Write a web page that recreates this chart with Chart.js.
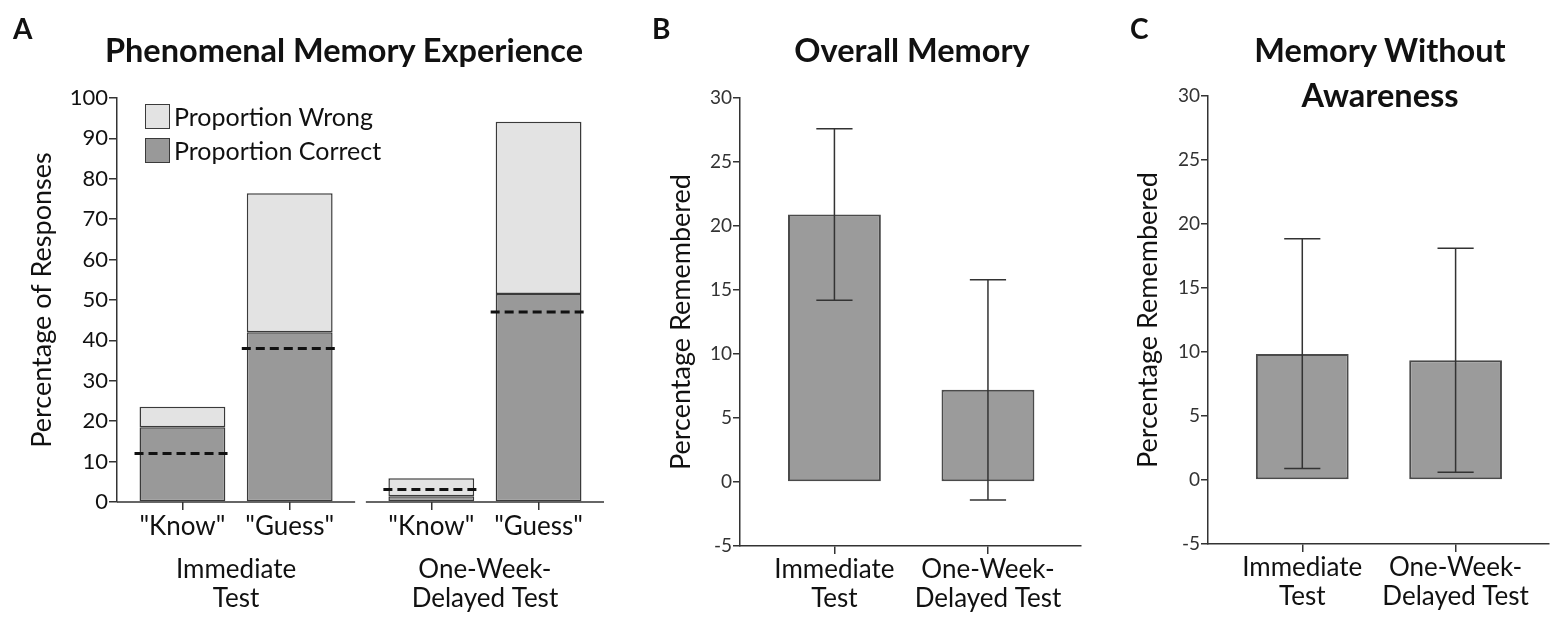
<!DOCTYPE html>
<html><head><meta charset="utf-8">
<script src="https://cdn.jsdelivr.net/npm/chart.js@4.4.1/dist/chart.umd.min.js"></script>
<style>
html,body{margin:0;padding:0;background:#fff;}
#wrap{position:relative;width:1562px;height:621px;overflow:hidden;font-family:Lato,"Open Sans",sans-serif;color:#111;}
canvas{position:absolute;top:0;}
.lbl{position:absolute;font-weight:bold;font-size:28px;line-height:28px;}
.ttl{position:absolute;font-weight:bold;font-size:32.5px;line-height:45px;text-align:center;transform:translateX(-50%);white-space:nowrap;}
.leg{position:absolute;left:145px;top:99px;font-size:25px;}
.leg .row{display:flex;align-items:center;height:34px;}
.leg .sw{display:inline-block;width:23px;height:23px;border:1.5px solid #3a3a3a;margin-right:4px;}
</style></head>
<body><div id="wrap">
<canvas id="cA" width="640" height="621" style="left:0px"></canvas>
<canvas id="cB" width="460" height="621" style="left:640px"></canvas>
<canvas id="cC" width="462" height="621" style="left:1100px"></canvas>
<div class="lbl" style="left:13px;top:14px">A</div>
<div class="lbl" style="left:652px;top:14px">B</div>
<div class="lbl" style="left:1130px;top:14px">C</div>
<div class="ttl" style="left:344px;top:27px">Phenomenal Memory Experience</div>
<div class="ttl" style="left:912px;top:27px">Overall Memory</div>
<div class="ttl" style="left:1380px;top:27px">Memory Without<br>Awareness</div>
<div class="leg">
  <div class="row"><span class="sw" style="background:#e3e3e3"></span>Proportion Wrong</div>
  <div class="row"><span class="sw" style="background:#999999"></span>Proportion Correct</div>
</div>
</div>
<script>
// ---------- data ----------
const responseLabels = ['"Know"', '"Guess"'];
const testLabels = [['Immediate', 'Test'], ['One-Week-', 'Delayed Test']];
// Panel A (order: Immediate Know, Immediate Guess, Delayed Know, Delayed Guess)
const correctA = [18.5, 42.0, 1.4, 51.5];
const wrongA   = [5.1, 34.4, 4.5, 42.6];
const chanceA  = [12.0, 38.0, 3.1, 47.0];
// Panel B: Overall Memory
const meanB  = [20.9, 7.2];
const upperB = [27.6, 15.8];
const lowerB = [14.2, -1.4];
// Panel C: Memory Without Awareness
const meanC  = [9.85, 9.35];
const upperC = [18.85, 18.1];
const lowerC = [0.9, 0.6];

// ---------- layout constants ----------
const GROUP_GAP = 2.32;
const FONT = 'Lato';
const INK = '#111';
const AXIS = '#333';
const TITLE_SIZE = 27;
const HALF_LH = TITLE_SIZE * 1.2 / 2;

const xsA = testLabels.flatMap((g, gi) => responseLabels.map((r, ri) => gi * GROUP_GAP + ri));
const xsBC = testLabels.map((g, i) => i);

const axisSegments = {
  id: 'axisSegments',
  afterDraw(chart) {
    const x = chart.scales.x, y = chart.chartArea.bottom, ctx = chart.ctx;
    ctx.save(); ctx.strokeStyle = AXIS; ctx.lineWidth = 1.5;
    testLabels.forEach((g, gi) => {
      const a = x.getPixelForValue(gi * GROUP_GAP - 0.61);
      const b = x.getPixelForValue(gi * GROUP_GAP + 1.61);
      ctx.beginPath(); ctx.moveTo(a, y); ctx.lineTo(b, y); ctx.stroke();
    });
    ctx.restore();
  }
};
const chanceLines = {
  id: 'chanceLines',
  afterDatasetsDraw(chart) {
    const meta = chart.getDatasetMeta(0), ys = chart.scales.y, ctx = chart.ctx;
    ctx.save(); ctx.strokeStyle = '#111'; ctx.lineWidth = 3; ctx.setLineDash([9, 5]);
    meta.data.forEach((el, i) => {
      const py = ys.getPixelForValue(chanceA[i]);
      const hw = el.width / 2 + 5;
      ctx.beginPath(); ctx.moveTo(el.x - hw, py); ctx.lineTo(el.x + hw, py); ctx.stroke();
    });
    ctx.restore();
  }
};
const groupLabels = {
  id: 'groupLabels',
  afterDraw(chart) {
    const x = chart.scales.x, ctx = chart.ctx, base = chart.chartArea.bottom;
    ctx.save(); ctx.fillStyle = INK; ctx.font = '26px ' + FONT;
    ctx.textAlign = 'center'; ctx.textBaseline = 'middle';
    testLabels.forEach((lines, gi) => {
      const cx = (x.getPixelForValue(gi * GROUP_GAP) + x.getPixelForValue(gi * GROUP_GAP + 1)) / 2;
      lines.forEach((t, li) => ctx.fillText(t, cx, base + 68 + li * 29));
    });
    ctx.restore();
  }
};
function errorBars(upper, lower) {
  return {
    id: 'errorBars',
    afterDatasetsDraw(chart) {
      const meta = chart.getDatasetMeta(0), ys = chart.scales.y, ctx = chart.ctx;
      ctx.save(); ctx.strokeStyle = '#333'; ctx.lineWidth = 1.5;
      meta.data.forEach((el, i) => {
        const yu = ys.getPixelForValue(upper[i]), yl = ys.getPixelForValue(lower[i]);
        const cw = el.width * 0.195;
        ctx.beginPath();
        ctx.moveTo(el.x, yu); ctx.lineTo(el.x, yl);
        ctx.moveTo(el.x - cw, yu); ctx.lineTo(el.x + cw, yu);
        ctx.moveTo(el.x - cw, yl); ctx.lineTo(el.x + cw, yl);
        ctx.stroke();
      });
      ctx.restore();
    }
  };
}

Chart.defaults.font.family = FONT;
Chart.defaults.color = INK;

// ---------- Panel A ----------
const padA = 42 - HALF_LH;
new Chart(document.getElementById('cA'), {
  type: 'bar',
  data: { datasets: [
    { label: 'Proportion Correct', data: xsA.map((x, i) => ({ x, y: correctA[i] })), backgroundColor: '#999999',
      borderColor: '#3a3a3a', borderWidth: 1.5, borderSkipped: false, stack: 's' },
    { label: 'Proportion Wrong', data: xsA.map((x, i) => ({ x, y: wrongA[i] })), backgroundColor: '#e3e3e3',
      borderColor: '#3a3a3a', borderWidth: 1.5, borderSkipped: false, stack: 's' }
  ]},
  options: {
    responsive: false, animation: false, devicePixelRatio: 1,
    layout: { padding: { left: padA, top: 98, right: 36, bottom: 0 } },
    plugins: { legend: { display: false }, tooltip: { enabled: false } },
    datasets: { bar: { categoryPercentage: 1, barPercentage: 0.8 } },
    scales: {
      x: { type: 'linear', min: -0.61, max: 3.93, offset: false, stacked: true,
        afterBuildTicks: s => { s.ticks = xsA.map(v => ({ value: v })); },
        afterFit: s => { s.height = 119; },
        ticks: { autoSkip: false, maxRotation: 0, callback: (v, i) => responseLabels[i % 2],
                 font: { size: 26 }, color: INK, padding: 1 },
        grid: { offset: false, drawOnChartArea: false, drawTicks: true, tickLength: 8, color: AXIS, lineWidth: 1.5 },
        border: { display: false } },
      y: { min: 0, max: 100, stacked: true,
        afterFit: s => { s.width = 117 - padA; },
        ticks: { stepSize: 10, font: { size: 22 }, color: INK, padding: 1 },
        grid: { drawOnChartArea: false, drawTicks: true, tickLength: 8, color: AXIS, lineWidth: 1.5 },
        border: { display: true, color: AXIS, width: 1.5 },
        title: { display: true, text: 'Percentage of Responses', font: { size: TITLE_SIZE }, color: INK, padding: { top: 0, bottom: 0 } } }
    }
  },
  plugins: [axisSegments, chanceLines, groupLabels]
});

// ---------- Panels B & C ----------
function makeBC(id, mean, upper, lower, o) {
  const padL = o.titleX - HALF_LH;
  new Chart(document.getElementById(id), {
    type: 'bar',
    data: { datasets: [{ label: 'Percentage Remembered', data: xsBC.map((x, i) => ({ x, y: mean[i] })),
      backgroundColor: '#9b9b9b', borderColor: '#4a4a4a', borderWidth: 2, borderSkipped: false }] },
    options: {
      responsive: false, animation: false, devicePixelRatio: 1,
      layout: { padding: { left: padL, top: o.top, right: o.padR, bottom: 0 } },
      plugins: { legend: { display: false }, tooltip: { enabled: false } },
      datasets: { bar: { categoryPercentage: 1, barPercentage: 0.605 } },
      scales: {
        x: { type: 'linear', min: -0.615, max: 1.606, offset: false,
          afterBuildTicks: s => { s.ticks = xsBC.map(v => ({ value: v })); },
          afterFit: s => { s.height = o.xh; },
          ticks: { autoSkip: false, maxRotation: 0, callback: (v, i) => testLabels[i],
                   font: { size: 26, lineHeight: 1.12 }, color: INK, padding: 1 },
          grid: { offset: false, drawOnChartArea: false, drawTicks: true, tickLength: 8, color: AXIS, lineWidth: 1.5 },
          border: { display: true, color: AXIS, width: 1.5 } },
        y: { min: -5, max: 30,
          afterFit: s => { s.width = o.axisX - padL; },
          ticks: { stepSize: 5, font: { size: 19 }, color: '#333', padding: 1 },
          grid: { drawOnChartArea: false, drawTicks: true, tickLength: 7, color: AXIS, lineWidth: 1.5 },
          border: { display: true, color: AXIS, width: 1.5 },
          title: { display: true, text: 'Percentage Remembered', font: { size: TITLE_SIZE }, color: INK, padding: { top: 0, bottom: 0 } } }
      }
    },
    plugins: [errorBars(upper, lower)]
  });
}
makeBC('cB', meanB, upperB, lowerB, { titleX: 41, axisX: 100, padR: 19, top: 98, xh: 75 });
makeBC('cC', meanC, upperC, lowerC, { titleX: 48, axisX: 108, padR: 13.5, top: 96, xh: 77 });
</script>
</body></html>
